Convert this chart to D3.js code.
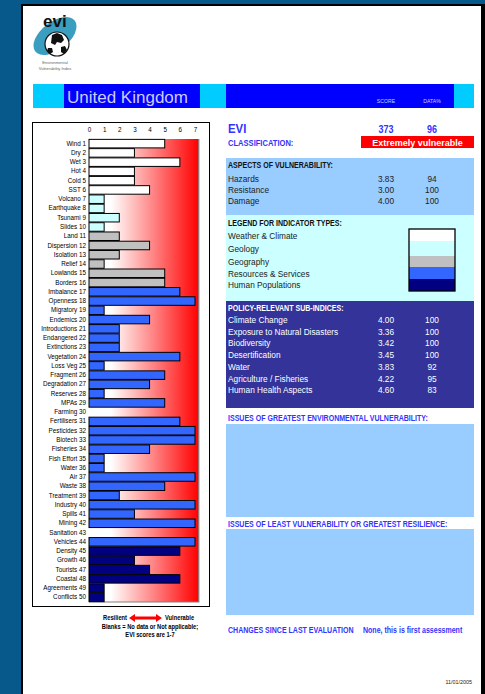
<!DOCTYPE html>
<html>
<head>
<meta charset="utf-8">
<script src="https://cdn.jsdelivr.net/npm/d3@7"></script>
<style>
  html, body { margin: 0; padding: 0; background: #07598b; }
  svg { display: block; }
  text { font-family: "Liberation Sans", Arial, sans-serif; }
</style>
</head>
<body>
<script>
// ---- data ----
const country = "United Kingdom";
const indicators = ["Wind 1","Dry 2","Wet 3","Hot 4","Cold 5","SST 6","Volcano 7","Earthquake 8","Tsunami 9","Slides 10",
  "Land 11","Dispersion 12","Isolation 13","Relief 14","Lowlands 15","Borders 16","Imbalance 17","Openness 18","Migratory 19","Endemics 20",
  "Introductions 21","Endangered 22","Extinctions 23","Vegetation 24","Loss Veg 25","Fragment 26","Degradation 27","Reserves 28","MPAs 29","Farming 30",
  "Fertilisers 31","Pesticides 32","Biotech 33","Fisheries 34","Fish Effort 35","Water 36","Air 37","Waste 38","Treatment 39","Industry 40",
  "Spills 41","Mining 42","Sanitation 43","Vehicles 44","Density 45","Growth 46","Tourists 47","Coastal 48","Agreements 49","Conflicts 50"];
// null = no data / not applicable
const scores = [5,3,6,3,3,4,1,1,2,1,
  2,4,2,1,5,5,6,7,1,4,
  2,2,2,6,1,5,4,1,5,null,
  6,7,7,4,1,1,7,5,2,7,
  3,7,null,7,6,3,4,6,1,1];
// indicator type index into typeNames
const types = [0,0,0,0,0,0,1,1,1,1,
  2,2,2,2,2,2,3,3,3,3,
  3,3,3,3,3,3,3,3,3,3,
  3,3,3,3,3,3,3,3,3,3,
  3,3,3,3,4,4,4,4,4,4];
const typeNames = ["Weather & Climate","Geology","Geography","Resources & Services","Human Populations"];
const typeColors = ["#ffffff","#ccffff","#c0c0c0","#3366ff","#000080"];
const tickValues = [0,1,2,3,4,5,6,7];

const eviScore = 373, eviData = 96, classification = "Extremely vulnerable";
const aspectNames = ["Hazards","Resistance","Damage"];
const aspectScores = ["3.83","3.00","4.00"];
const aspectData = [94,100,100];
const policyNames = ["Climate Change","Exposure to Natural Disasters","Biodiversity","Desertification","Water","Agriculture / Fisheries","Human Health Aspects"];
const policyScores = ["4.00","3.36","3.42","3.45","3.83","4.22","4.60"];
const policyData = [100,100,100,100,92,95,83];

// ---- page ----
const W = 485, H = 694;
const svg = d3.select("body").append("svg").attr("width", W).attr("height", H);

// condensed bold heading text (horizontally squeezed bold sans)
function narrow(parent, x, y, size, fill, str, anchor = "start", squeeze = 0.86) {
  return parent.append("text")
    .attr("transform", `translate(${x},${y}) scale(${squeeze},1)`)
    .attr("font-size", size).attr("font-weight", "bold")
    .attr("text-anchor", anchor).attr("fill", fill).text(str);
}

svg.append("rect").attr("width", W).attr("height", H).attr("fill", "#07598b");
// page sheet with black frame
svg.append("rect").attr("x", 21).attr("y", 4).attr("width", 464).attr("height", 700).attr("fill", "#000");
svg.append("rect").attr("x", 23).attr("y", 6).attr("width", 458).attr("height", 700).attr("fill", "#fff");

// ---- logo ----
const logo = svg.append("g");
logo.append("ellipse").attr("cx", 55).attr("cy", 36).attr("rx", 25).attr("ry", 14)
  .attr("transform", "rotate(-38,55,36)").attr("fill", "#3a9ec0");
logo.append("circle").attr("cx", 57).attr("cy", 44).attr("r", 12).attr("fill", "#fff").attr("stroke", "#111").attr("stroke-width", 1.2);
logo.append("path").attr("d", "M52,35 l5,-2 l5,2 l2,5 l-3,3 l-4,-1 l-2,3 l-4,-2 z M61,47 l4,-1 l2,4 l-3,4 l-3,-2 z M48,48 l4,0 l1,4 l-3,2 l-3,-3 z")
  .attr("fill", "#111");
logo.append("text").attr("x", 43).attr("y", 27).attr("font-size", 17).attr("font-weight", "bold").attr("fill", "#111").text("evi");
logo.append("text").attr("x", 55).attr("y", 64).attr("font-size", 4).attr("text-anchor", "middle").attr("fill", "#666").text("Environmental");
logo.append("text").attr("x", 55).attr("y", 70).attr("font-size", 4).attr("text-anchor", "middle").attr("fill", "#666").text("Vulnerability Index");

// ---- title bar ----
svg.append("rect").attr("x", 33).attr("y", 84).attr("width", 441).attr("height", 24).attr("fill", "#00ccff");
svg.append("rect").attr("x", 64).attr("y", 84).attr("width", 136).attr("height", 24).attr("fill", "#0000ff");
svg.append("rect").attr("x", 226).attr("y", 84).attr("width", 228).attr("height", 24).attr("fill", "#0000ff");
svg.append("text").attr("x", 67).attr("y", 103).attr("font-size", 17).attr("fill", "#ccccff").text(country);
const colScore = 386, colData = 432;
narrow(svg, colScore, 103, 6, "#ccccff", "SCORE", "middle").attr("font-weight", "normal");
narrow(svg, colData, 103, 6, "#ccccff", "DATA%", "middle").attr("font-weight", "normal");

// ---- indicator bar chart ----
svg.append("rect").attr("x", 32.5).attr("y", 122.5).attr("width", 177).attr("height", 484)
  .attr("fill", "#fff").attr("stroke", "#000").attr("stroke-width", 1);

const x = d3.scaleLinear().domain([0, 7]).range([89, 195]);
const y = d3.scaleBand().domain(indicators).range([139, 602]).paddingInner(0.08).paddingOuter(0.04);

const defs = svg.append("defs");
const grad = defs.append("linearGradient").attr("id", "vuln").attr("x1", "0%").attr("x2", "100%");
grad.append("stop").attr("offset", "0%").attr("stop-color", "#ffffff");
grad.append("stop").attr("offset", "20%").attr("stop-color", "#ffffff");
grad.append("stop").attr("offset", "100%").attr("stop-color", "#ff0000");

const plotRight = x(7.25);
svg.append("rect").attr("x", x(0)).attr("y", 139).attr("width", plotRight - x(0)).attr("height", 463)
  .attr("fill", "url(#vuln)");
svg.append("path").attr("d", `M${plotRight},139 V602 H${x(0)}`).attr("fill", "none").attr("stroke", "#808080").attr("stroke-width", 1.2);

const rows = indicators.map((name, i) => ({ name, score: scores[i], type: types[i] }));
svg.append("g").selectAll("rect").data(rows.filter(d => d.score != null)).join("rect")
  .attr("x", x(0))
  .attr("y", d => y(d.name))
  .attr("width", d => x(d.score) - x(0))
  .attr("height", y.bandwidth())
  .attr("fill", d => typeColors[d.type])
  .attr("stroke", "#000").attr("stroke-width", 1);

const xAxis = svg.append("g").attr("transform", `translate(0,${132})`)
  .call(d3.axisTop(x).tickValues(tickValues).tickSize(0).tickPadding(0).tickFormat(d3.format("d")));
xAxis.select(".domain").remove();
xAxis.selectAll("text").attr("font-size", 6.3).attr("fill", "#000").attr("font-family", "Liberation Sans, Arial, sans-serif");

const yAxis = svg.append("g").attr("transform", `translate(${x(0)},0)`)
  .call(d3.axisLeft(y).tickSize(0).tickPadding(3));
yAxis.select(".domain").remove();
yAxis.selectAll("text").attr("font-size", 6.3).attr("fill", "#000").attr("font-family", "Liberation Sans, Arial, sans-serif");

// scale key under the chart
narrow(svg, 127, 620, 7, "#000", "Resilient", "end", 0.82);
svg.append("path").attr("d", "M129,618 l6,-4 v2.5 h21 v-2.5 l6,4 l-6,4 v-2.5 h-21 v2.5 z").attr("fill", "#ff0000");
narrow(svg, 165, 620, 7, "#000", "Vulnerable", "start", 0.82);
narrow(svg, 150, 629, 7, "#000", "Blanks = No data or Not applicable;", "middle", 0.82);
narrow(svg, 150, 637, 7, "#000", "EVI scores are 1-7", "middle", 0.82);

// ---- right-hand summary ----
const LX = 228;
narrow(svg, LX, 133, 12, "#3333ff", "EVI", "start", 0.95);
narrow(svg, colScore, 133, 10, "#3333ff", eviScore, "middle", 0.9);
narrow(svg, colData, 133, 10, "#3333ff", eviData, "middle", 0.9);
narrow(svg, LX, 146, 8.6, "#3333ff", "CLASSIFICATION:", "start", 0.88);
svg.append("rect").attr("x", 361).attr("y", 136).attr("width", 113).attr("height", 12).attr("fill", "#ff0000");
svg.append("text").attr("x", 417.5).attr("y", 145.5).attr("font-size", 9).attr("font-weight", "bold").attr("text-anchor", "middle").attr("fill", "#fff").text(classification);

// aspects of vulnerability
svg.append("rect").attr("x", 226).attr("y", 158).attr("width", 248).attr("height", 57).attr("fill", "#99ccff");
narrow(svg, LX, 168, 8.2, "#111", "ASPECTS OF VULNERABILITY:");
const aspectRows = svg.append("g").selectAll("g").data(aspectNames).join("g")
  .attr("transform", (d, i) => `translate(0,${182 + i * 11.2})`);
aspectRows.append("text").attr("x", LX).attr("font-size", 8.3).attr("fill", "#222").text(d => d);
aspectRows.append("text").attr("x", colScore).attr("text-anchor", "middle").attr("font-size", 8.3).attr("fill", "#222").text((d, i) => aspectScores[i]);
aspectRows.append("text").attr("x", colData).attr("text-anchor", "middle").attr("font-size", 8.3).attr("fill", "#222").text((d, i) => aspectData[i]);

// legend for indicator types
svg.append("rect").attr("x", 226).attr("y", 215).attr("width", 248).attr("height", 86).attr("fill", "#ccffff");
narrow(svg, LX, 226, 8.2, "#111", "LEGEND FOR INDICATOR TYPES:");
const legendY = [239, 252, 265, 277, 288];
svg.append("g").selectAll("text").data(typeNames).join("text")
  .attr("x", LX).attr("y", (d, i) => legendY[i]).attr("font-size", 8.3).attr("fill", "#222").text(d => d);
const swatchTop = [229, 241, 256, 267, 279, 291];
svg.append("g").selectAll("rect").data(typeColors).join("rect")
  .attr("x", 409).attr("y", (d, i) => swatchTop[i]).attr("width", 46)
  .attr("height", (d, i) => swatchTop[i + 1] - swatchTop[i]).attr("fill", d => d);
svg.append("rect").attr("x", 409).attr("y", 229).attr("width", 46).attr("height", 62)
  .attr("fill", "none").attr("stroke", "#000").attr("stroke-width", 1.3);

// policy-relevant sub-indices
svg.append("rect").attr("x", 226).attr("y", 301).attr("width", 248).attr("height", 107).attr("fill", "#333399");
narrow(svg, LX, 311, 8.2, "#fff", "POLICY-RELEVANT SUB-INDICES:");
const policyRows = svg.append("g").selectAll("g").data(policyNames).join("g")
  .attr("transform", (d, i) => `translate(0,${323 + i * 11.7})`);
policyRows.append("text").attr("x", LX).attr("font-size", 8.3).attr("fill", "#fff").text(d => d);
policyRows.append("text").attr("x", colScore).attr("text-anchor", "middle").attr("font-size", 8.3).attr("fill", "#fff").text((d, i) => policyScores[i]);
policyRows.append("text").attr("x", colData).attr("text-anchor", "middle").attr("font-size", 8.3).attr("fill", "#fff").text((d, i) => policyData[i]);

// issues panels
narrow(svg, LX, 421, 8.2, "#3333ff", "ISSUES OF GREATEST ENVIRONMENTAL VULNERABILITY:");
svg.append("rect").attr("x", 226).attr("y", 424).attr("width", 248).attr("height", 93).attr("fill", "#99ccff");
narrow(svg, LX, 527, 8.2, "#3333ff", "ISSUES OF LEAST VULNERABILITY OR GREATEST RESILIENCE:");
svg.append("rect").attr("x", 226).attr("y", 529).attr("width", 248).attr("height", 86).attr("fill", "#99ccff");

narrow(svg, LX, 633, 8.2, "#3333ff", "CHANGES SINCE LAST EVALUATION");
narrow(svg, 363, 633, 8.2, "#3333ff", "None, this is first assessment");
narrow(svg, 472, 684, 6, "#222", "11/01/2005", "end", 0.9).attr("font-weight", "normal");
</script>
</body>
</html>
